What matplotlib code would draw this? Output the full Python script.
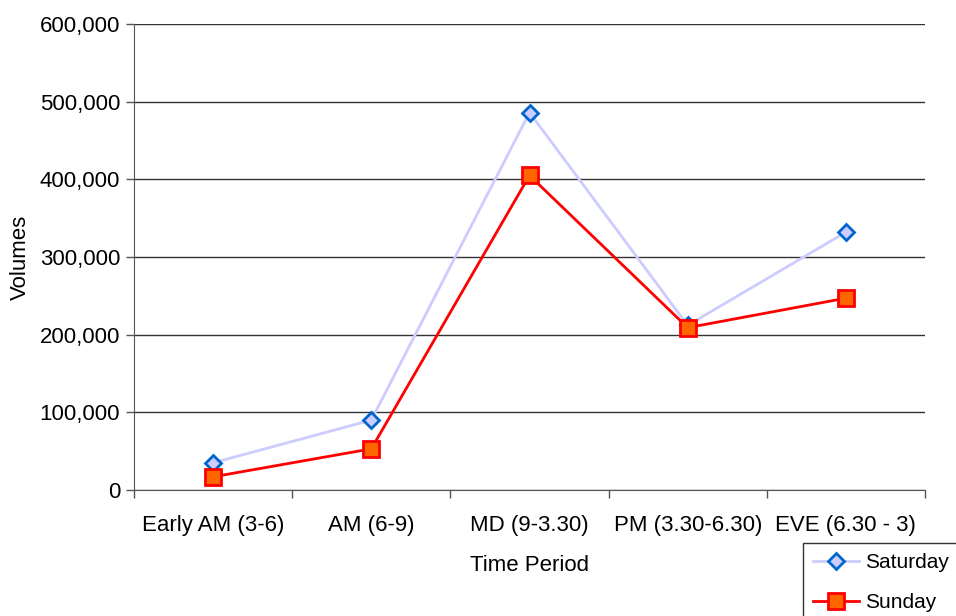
import matplotlib
matplotlib.use("Agg")
import matplotlib.pyplot as plt
from matplotlib.ticker import FuncFormatter, FixedLocator

plt.rcParams['font.family'] = ['Liberation Sans', 'DejaVu Sans']

categories = ["Early AM (3-6)", "AM (6-9)", "MD (9-3.30)", "PM (3.30-6.30)", "EVE (6.30 - 3)"]
saturday = [35000, 90000, 486000, 212000, 332000]
sunday = [17000, 53000, 405000, 209000, 247000]
yticks = [0, 100000, 200000, 300000, 400000, 500000, 600000]

fig = plt.figure(figsize=(9.56, 6.16), dpi=100)
ax = fig.add_axes([134/956, 1-490/616, (925-134)/956, (490-24)/616])

x = list(range(len(categories)))
ax.plot(x, saturday, color='#ccccff', lw=2, marker='D', ms=8, mfc='#ccccff',
        mec='#0066cc', mew=2, label='Saturday', zorder=3)
ax.plot(x, sunday, color='#ff0000', lw=2, marker='s', ms=11, mfc='#ff6600',
        mec='#ff0000', mew=2, label='Sunday', zorder=4)

ax.set_xlim(-0.5, len(categories) - 0.5)
ax.set_ylim(0, 600000)
ax.set_yticks(yticks)
ax.yaxis.set_major_formatter(FuncFormatter(lambda v, p: f"{int(v):,}"))
ax.grid(axis='y', color='#333333', lw=1)
ax.set_axisbelow(True)

ax.set_xticks(x)
ax.set_xticklabels(categories)
ax.xaxis.set_minor_locator(FixedLocator([i + 0.5 for i in range(-1, len(categories))]))
ax.tick_params(axis='x', which='major', length=0, pad=18, labelsize=16)
ax.tick_params(axis='x', which='minor', length=6, color='#555555', width=1)
ax.tick_params(axis='y', length=6, color='#555555', width=1, labelsize=16, pad=4)

for s in ['top', 'right']:
    ax.spines[s].set_visible(False)
ax.spines['left'].set_color('#555555')
ax.spines['bottom'].set_color('#555555')

ax.set_xlabel("Time Period", fontsize=16, labelpad=14)
ax.set_ylabel("Volumes", fontsize=16, labelpad=6)

leg = fig.legend(loc='upper left', bbox_to_anchor=(803/956, 1-543/616), fontsize=15,
                 frameon=True, fancybox=False, edgecolor='black', borderpad=0.5,
                 handlelength=2.2, labelspacing=1.0, borderaxespad=0, handletextpad=0.3)
leg.get_frame().set_linewidth(1)

fig.savefig("out.png", dpi=100)
